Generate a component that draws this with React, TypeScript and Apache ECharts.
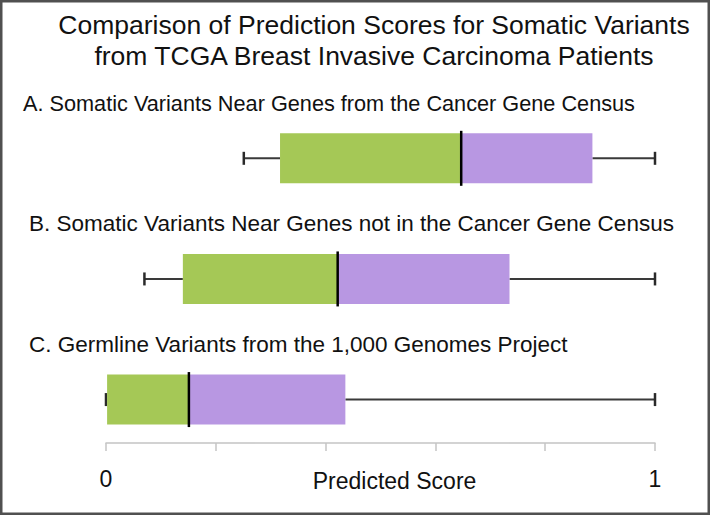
import React, { useEffect, useRef } from "react";
import * as echarts from "echarts";

const titleLines = [
  "Comparison of Prediction Scores for Somatic Variants",
  "from TCGA Breast Invasive Carcinoma Patients",
];
const categories = [
  "A. Somatic Variants Near Genes from the Cancer Gene Census",
  "B. Somatic Variants Near Genes not in the Cancer Gene Census",
  "C. Germline Variants from the 1,000 Genomes Project",
];
const mins = [0.251, 0.07, 0.0];
const q1s = [0.317, 0.14, 0.002];
const medians = [0.647, 0.422, 0.151];
const q3s = [0.886, 0.735, 0.436];
const maxs = [1.0, 1.0, 1.0];
const tickLabels = ["0", "", "", "", "", "1"];
const axisName = "Predicted Score";

const FONT = "'Liberation Sans', Arial, sans-serif";
const GREEN = "#a5c856";
const PURPLE = "#b897e2";
const LABEL_X = [23, 29, 29];
const LABEL_SIZE = [21.7, 22.5, 22.5];

export default function App() {
  const ref = useRef<HTMLDivElement>(null);
  useEffect(() => {
    if (!ref.current) return;
    const chart = echarts.init(ref.current, undefined, { renderer: "svg" });
    const data = categories.map((_, i) => [i, mins[i], q1s[i], medians[i], q3s[i], maxs[i]]);
    chart.setOption({
      animation: false,
      backgroundColor: "#ffffff",
      grid: { left: 106, right: 55, top: 98, bottom: 72, outerBoundsMode: "none", containLabel: false },
      xAxis: {
        type: "value",
        position: "bottom",
        min: 0,
        max: 1,
        interval: 0.2,
        name: axisName,
        nameLocation: "middle",
        nameGap: 26,
        nameMoveOverlap: false,
        nameTextStyle: { fontSize: 23, color: "#111", fontFamily: FONT, padding: [0, 0, 0, 28] },
        axisLine: { show: true, onZero: false, lineStyle: { color: "#c4c4c4", width: 1.5 } },
        axisTick: { show: true, length: 8, lineStyle: { color: "#c4c4c4", width: 1.5 } },
        splitLine: { show: false },
        axisLabel: {
          fontSize: 23,
          color: "#111",
          fontFamily: FONT,
          margin: 24,
          formatter: (v: number) => tickLabels[Math.round(v / 0.2)] ?? "",
        },
      },
      yAxis: { type: "value", inverse: true, min: -0.5, max: 2.36, show: false },
      graphic: [
        {
          type: "rect",
          shape: { x: 1.25, y: 1.25, width: 707.5, height: 512.5 },
          style: { fill: "none", stroke: "#505050", lineWidth: 2.5 },
          silent: true,
        },
        {
          type: "text",
          x: 374,
          y: 25,
          style: { text: titleLines[0], fill: "#111", fontSize: 26.5, fontFamily: FONT, textAlign: "center", textVerticalAlign: "middle" },
        },
        {
          type: "text",
          x: 374,
          y: 56,
          style: { text: titleLines[1], fill: "#111", fontSize: 26.5, fontFamily: FONT, textAlign: "center", textVerticalAlign: "middle" },
        },
      ],
      series: [
        {
          type: "custom",
          encode: { x: [1, 2, 3, 4, 5], y: 0 },
          data,
          renderItem: (params: any, api: any) => {
            const idx = api.value(0);
            const pMin = api.coord([api.value(1), idx]);
            const pQ1 = api.coord([api.value(2), idx]);
            const pMd = api.coord([api.value(3), idx]);
            const pQ3 = api.coord([api.value(4), idx]);
            const pMx = api.coord([api.value(5), idx]);
            const cy = pMin[1];
            const h = 25;
            const cap = 6.5;
            const wStyle = { stroke: "#3a3a3a", lineWidth: 2 };
            const i = params.dataIndex;
            return {
              type: "group",
              children: [
                { type: "line", shape: { x1: pMin[0], y1: cy, x2: pQ1[0], y2: cy }, style: wStyle },
                { type: "line", shape: { x1: pQ3[0], y1: cy, x2: pMx[0], y2: cy }, style: wStyle },
                { type: "line", shape: { x1: pMin[0], y1: cy - cap, x2: pMin[0], y2: cy + cap }, style: { stroke: "#2a2a2a", lineWidth: 2.5 } },
                { type: "line", shape: { x1: pMx[0], y1: cy - cap, x2: pMx[0], y2: cy + cap }, style: { stroke: "#2a2a2a", lineWidth: 2.5 } },
                { type: "rect", shape: { x: pQ1[0], y: cy - h, width: pMd[0] - pQ1[0], height: 2 * h }, style: { fill: GREEN } },
                { type: "rect", shape: { x: pMd[0], y: cy - h, width: pQ3[0] - pMd[0], height: 2 * h }, style: { fill: PURPLE } },
                { type: "line", shape: { x1: pMd[0], y1: cy - h - 2.5, x2: pMd[0], y2: cy + h + 2.5 }, style: { stroke: "#000", lineWidth: 2.5 } },
                {
                  type: "text",
                  x: LABEL_X[i],
                  y: cy - 55,
                  style: {
                    text: categories[i],
                    fill: "#111",
                    fontSize: LABEL_SIZE[i],
                    fontFamily: FONT,
                    textAlign: "left",
                    textVerticalAlign: "middle",
                  },
                },
              ],
            };
          },
        },
      ],
    });
    return () => chart.dispose();
  }, []);
  return (
    <div
      ref={ref}
      style={{ position: "absolute", left: 0, top: 0, width: 710, height: 515 }}
    />
  );
}
